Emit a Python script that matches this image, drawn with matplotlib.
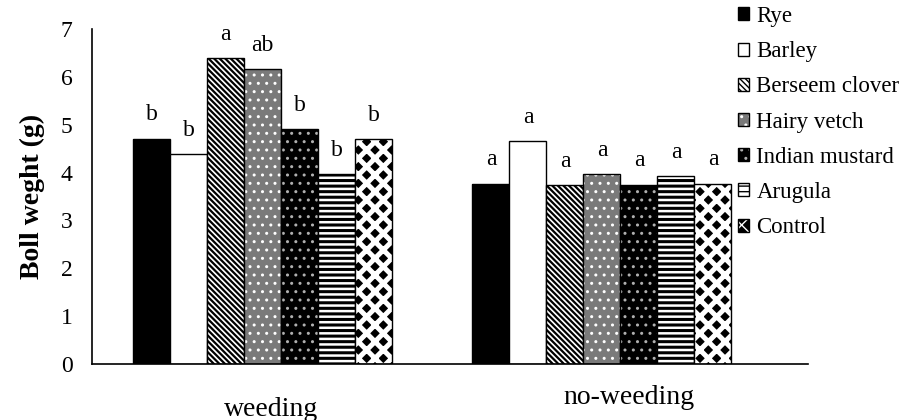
import matplotlib
matplotlib.use("Agg")
import matplotlib.pyplot as plt
import numpy as np

# === DATA ===
groups = ["weeding", "no-weeding"]
crops = ["Rye", "Barley", "Berseem clover", "Hairy vetch", "Indian mustard", "Arugula", "Control"]
weeding = [4.71, 4.38, 6.40, 6.16, 4.91, 3.97, 4.70]
no_weeding = [3.77, 4.66, 3.74, 3.96, 3.75, 3.92, 3.77]
letters_weeding = ["b", "b", "a", "ab", "b", "b", "b"]
letters_no_weeding = ["a", "a", "a", "a", "a", "a", "a"]

# === STYLES (face, hatch, hatch colour, hatch linewidth) ===
styles = [
    ("black", None, "black", 1.5),
    ("white", None, "black", 1.5),
    ("white", "\\" * 6, "black", 1.6),
    ("#7a7a7a", "..", "white", 1.0),
    ("black", "..", "#b0b0b0", 1.0),
    ("white", "---", "black", 2.2),
    ("black", "xx", "white", 3.6),
]

plt.rcParams["font.family"] = ["Liberation Serif", "DejaVu Serif"]

fig = plt.figure(figsize=(9.1, 4.2), dpi=100)
ax = fig.add_axes([92 / 910, 56 / 420, 716 / 910, 335 / 420])

width = 0.109
x = np.arange(len(groups))
handles = []
for i, crop in enumerate(crops):
    face, hatch, hcol, hlw = styles[i]
    pos = x + (i - 3) * width
    vals = [weeding[i], no_weeding[i]]
    with plt.rc_context({"hatch.linewidth": hlw}):
        fill = ax.bar(pos, vals, width, color=face, hatch=hatch, edgecolor=hcol, linewidth=0)
        for p in fill:
            if hasattr(p, "set_hatch_linewidth"):
                p.set_hatch_linewidth(hlw)
    outline = ax.bar(pos, vals, width, fill=False, edgecolor="black", linewidth=1.0)
    handles.append((fill[0], outline[0]))
    for xp, v, lab in zip(pos, vals, [letters_weeding[i], letters_no_weeding[i]]):
        ax.annotate(lab, (xp, v), xytext=(0, 17), textcoords="offset points",
                    ha="center", va="center", fontsize=17)

ax.set_xlim(-0.502, 1.607)
ax.set_ylim(0, 7)
ax.set_yticks(range(8))
ax.tick_params(axis="y", length=0, pad=14, labelsize=17)
ax.set_xticks([])
for s in ["top", "right"]:
    ax.spines[s].set_visible(False)
ax.spines["left"].set_linewidth(1.2)
ax.spines["bottom"].set_linewidth(1.2)

ax.set_ylabel("Boll weght (g)", fontsize=20, fontweight="bold")
ax.yaxis.set_label_coords(-0.066, 0.5)

ax.text(0.25, -0.137, groups[0], transform=ax.transAxes, ha="center", va="center", fontsize=20)
ax.text(0.75, -0.099, groups[1], transform=ax.transAxes, ha="center", va="center", fontsize=20)

leg = fig.legend(handles, crops, loc="upper left", bbox_to_anchor=(738 / 910, 1 - 6 / 420),
                 frameon=False, fontsize=16.5, handlelength=0.5, handleheight=0.5,
                 handletextpad=0.3, labelspacing=0.62, borderpad=0, borderaxespad=0)

fig.savefig("out.png", dpi=100)
